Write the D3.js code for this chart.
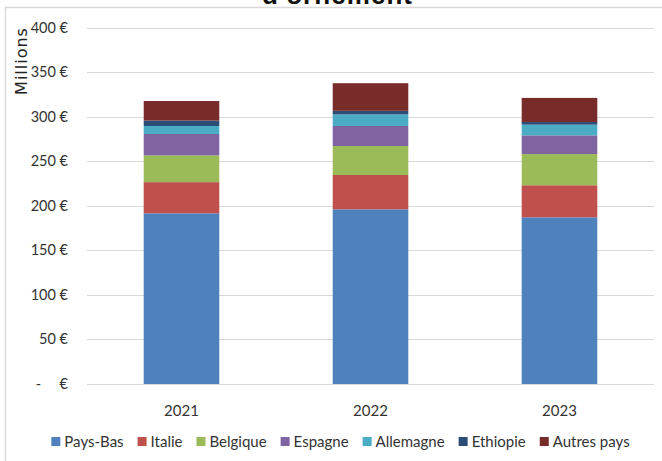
<!DOCTYPE html>
<html>
    <head>
        <meta charset="utf-8">
        <title>Importations plantes d'ornement</title>
        <script src="https://d3js.org/d3.v7.min.js"></script>
        <style>
            body { margin: 0; background: #fff; }
            svg { display: block; }
        </style>
    </head>
    <body>
        <div id="chart"></div>
        <script>
            //  data (millions of euros)
            const years = ["2021", "2022", "2023"];
            const countries = ["Pays-Bas", "Italie", "Belgique", "Espagne", "Allemagne", "Ethiopie", "Autres pays"];
            const paysBas = [191.5, 196, 187];
            const italie = [35, 38.5, 36];
            const belgique = [30, 32.5, 35];
            const espagne = [24, 22.5, 21];
            const allemagne = [9, 13, 12];
            const ethiopie = [6, 4, 3];
            const autresPays = [22, 31, 27];
            const yTicks = [0, 50, 100, 150, 200, 250, 300, 350, 400];

            const colors = ["#4F81BD", "#C0504D", "#9BBB59", "#8064A2", "#4BACC6", "#2C4D75", "#772C2A"];
            const seriesValues = [paysBas, italie, belgique, espagne, allemagne, ethiopie, autresPays];

            //  build rows for d3.stack
            const rows = years.map((yr, i) => {
                const r = {year: yr};
                countries.forEach((c, j) => r[c] = seriesValues[j][i]);
                return r;
            });

            //  chart dimensions
            const width = 662;
            const height = 461;
            const plotLeft = 87, plotRight = 654, plotTop = 27.5, plotBottom = 384;
            const labelFont = "Lato, 'Liberation Sans', Arial, sans-serif";
            const textColor = "#333";

            const svg = d3.select("#chart").append("svg")
                .attr("width", width)
                .attr("height", height);

            //  chart box border (only left and top are in frame)
            svg.append("rect")
                .attr("x", 5.5)
                .attr("y", 7.5)
                .attr("width", 720)
                .attr("height", 520)
                .attr("fill", "none")
                .attr("stroke", "#d9d9d9")
                .attr("stroke-width", 1.5);

            //  title, cut at the top of the picture like the source
            svg.append("text")
                .attr("x", 337)
                .attr("y", 3.5)
                .attr("text-anchor", "middle")
                .attr("font-family", "'Liberation Sans', Arial, sans-serif")
                .attr("font-weight", "bold")
                .attr("font-size", 26)
                .attr("textLength", 150)
                .attr("fill", "#111")
                .text("d'ornement");

            const x = d3.scaleBand()
                .domain(years)
                .range([plotLeft, plotRight])
                .paddingInner(0.6)
                .paddingOuter(0.3);

            const y = d3.scaleLinear()
                .domain([0, 400])
                .range([plotBottom, plotTop]);

            //  gridlines
            svg.append("g")
                .selectAll("line")
                .data(yTicks)
                .join("line")
                .attr("x1", plotLeft)
                .attr("x2", plotRight)
                .attr("y1", d => Math.round(y(d)) + 0.5)
                .attr("y2", d => Math.round(y(d)) + 0.5)
                .attr("stroke", "#d9d9d9")
                .attr("stroke-width", 1.2);

            //  y tick labels, accounting style
            svg.append("g")
                .selectAll("text")
                .data(yTicks)
                .join("text")
                .attr("x", 68)
                .attr("y", d => y(d) + 5)
                .attr("text-anchor", "end")
                .attr("font-family", labelFont)
                .attr("font-size", 14.5)
                .attr("fill", textColor)
                .style("white-space", "pre")
                .text(d => d === 0 ? "-     €" : d + " €");

            //  axis title
            svg.append("text")
                .attr("transform", "translate(27,61) rotate(-90)")
                .attr("text-anchor", "middle")
                .attr("font-family", "'DejaVu Sans', sans-serif")
                .attr("font-size", 16)
                .attr("letter-spacing", 1)
                .attr("fill", "#222")
                .text("Millions");

            //  stacked bars
            const stack = d3.stack().keys(countries)(rows);

            svg.append("g")
                .selectAll("g")
                .data(stack)
                .join("g")
                .attr("fill", (d, i) => colors[i])
                .selectAll("rect")
                .data(d => d)
                .join("rect")
                .attr("x", d => x(d.data.year))
                .attr("width", x.bandwidth())
                .attr("y", d => y(d[1]))
                .attr("height", d => y(d[0]) - y(d[1]));

            //  x labels
            svg.append("g")
                .selectAll("text")
                .data(years)
                .join("text")
                .attr("x", d => x(d) + x.bandwidth() / 2)
                .attr("y", 416)
                .attr("text-anchor", "middle")
                .attr("font-family", labelFont)
                .attr("font-size", 15)
                .attr("fill", textColor)
                .text(d => d);

            //  legend, centred under the box
            const legend = svg.append("g");
            const items = legend.selectAll("g")
                .data(countries)
                .join("g");

            items.append("rect")
                .attr("width", 9)
                .attr("height", 9)
                .attr("y", 437)
                .attr("fill", (d, i) => colors[i]);

            items.append("text")
                .attr("x", 13)
                .attr("y", 447)
                .attr("font-family", labelFont)
                .attr("font-size", 15)
                .attr("fill", textColor)
                .text(d => d);

            const gap = 14;
            const widths = [];
            items.each(function() {
                widths.push(13 + d3.select(this).select("text").node().getComputedTextLength());
            });
            const total = d3.sum(widths) + gap * (widths.length - 1);
            let cx = 340.5 - total / 2;
            items.attr("transform", (d, i) => {
                const t = `translate(${cx},0)`;
                cx += widths[i] + gap;
                return t;
            });
        </script>
    </body>
</html>
